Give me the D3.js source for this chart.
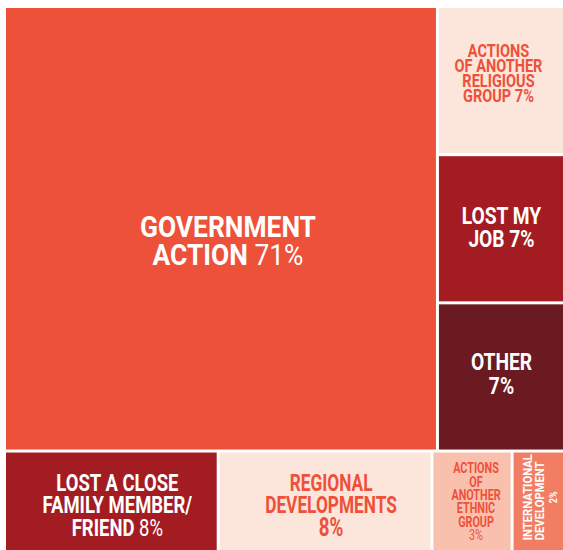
<!DOCTYPE html>
<html>
<head>
<meta charset="utf-8">
<script src="https://cdn.jsdelivr.net/npm/d3@7"></script>
<style>
  html, body { margin: 0; padding: 0; background: #ffffff; }
  svg { display: block; }
  text { font-family: Roboto, "Liberation Sans", sans-serif; }
</style>
</head>
<body>
<div id="chart"></div>
<script>
// Reasons given, share of respondents (%)
const categories = [
  "Government action",
  "Actions of another religious group",
  "Lost my job",
  "Other",
  "Lost a close family member/friend",
  "Regional developments",
  "Actions of another ethnic group",
  "International development"
];
const values = [71, 7, 7, 7, 8, 8, 3, 2];

// Label text, line by line (percentage added after the last line or on its own line)
const labelLines = [
  ["GOVERNMENT", "ACTION"],
  ["ACTIONS", "OF ANOTHER", "RELIGIOUS", "GROUP"],
  ["LOST MY", "JOB"],
  ["OTHER"],
  ["LOST A CLOSE", "FAMILY MEMBER/", "FRIEND"],
  ["REGIONAL", "DEVELOPMENTS"],
  ["ACTIONS", "OF", "ANOTHER", "ETHNIC", "GROUP"],
  ["INTERNATIONAL", "DEVELOPMENT"]
];
const pctOwnLine = [false, false, false, true, false, true, true, true];

// Grouping of the tiles: upper band (big tile + right-hand column), lower band
const upperLeft = [0];
const upperRight = [1, 2, 3];
const lowerBand = [4, 5, 6, 7];

// Styling per tile
const fills = ["#ee5139", "#fce5db", "#a31c22", "#6a1a20", "#a31c22", "#fce5db", "#f9c0ae", "#f17e63"];
const inks  = ["#ffffff", "#ee5139", "#ffffff", "#ffffff", "#ffffff", "#ee5139", "#ee5139", "#ffffff"];
const labelStyle = [
  { size: 29,   lh: 28,   dx: 7,  dy: 12,   sx: 0.91, pctWeight: 400 },
  { size: 17.5, lh: 15,   dx: -3, dy: -7,   sx: 0.83, pctWeight: 700 },
  { size: 24,   lh: 23,   dx: 0,  dy: -2,   sx: 0.80, pctWeight: 700 },
  { size: 24,   lh: 24,   dx: 0,  dy: -3,   sx: 0.80, pctWeight: 700 },
  { size: 24,   lh: 22.5, dx: 6,  dy: 3,    sx: 0.77, pctWeight: 400 },
  { size: 24,   lh: 22.5, dx: 6,  dy: 3,    sx: 0.72, pctWeight: 700, pctSize: 26 },
  { size: 15,   lh: 13.4, dx: 4,  dy: -0.5, sx: 0.72, pctWeight: 400 },
  { size: 12.5, lh: 12.5, dx: 1,  dy: -4.5, sx: 0.90, pctWeight: 700, pctSize: 10,
    rotate: true, align: "start" }
];

const width = 563, height = 550;
const margin = { left: 6, top: 8 };
const areaW = 558, areaH = 543;

const leaf = i => ({ index: i, value: values[i] });
const treeData = {
  children: [
    { children: [ ...upperLeft.map(leaf), { children: upperRight.map(leaf) } ] },
    { children: lowerBand.map(leaf) }
  ]
};

const root = d3.hierarchy(treeData).sum(d => d.value || 0);

// alternate horizontal and vertical splits by depth
const tile = (node, x0, y0, x1, y1) =>
  (node.depth % 2 === 0 ? d3.treemapSlice : d3.treemapDice)(node, x0, y0, x1, y1);

d3.treemap()
  .tile(tile)
  .size([areaW, areaH])
  .paddingInner(3)
  .round(false)(root);

const svg = d3.select("#chart").append("svg")
  .attr("width", width)
  .attr("height", height);

const g = svg.append("g").attr("transform", `translate(${margin.left},${margin.top})`);

const leaves = root.leaves();

g.selectAll("rect.tile")
  .data(leaves)
  .join("rect")
  .attr("class", "tile")
  .attr("x", d => d.x0)
  .attr("y", d => d.y0)
  .attr("width", d => d.x1 - d.x0)
  .attr("height", d => d.y1 - d.y0)
  .attr("fill", d => fills[d.data.index]);

const labels = g.selectAll("g.label")
  .data(leaves)
  .join("g")
  .attr("class", "label")
  .attr("transform", d => {
    const s = labelStyle[d.data.index];
    const cx = (d.x0 + d.x1) / 2 + s.dx;
    const cy = (d.y0 + d.y1) / 2 + s.dy;
    return `translate(${cx},${cy})` + (s.rotate ? " rotate(-90)" : "") + ` scale(${s.sx},1)`;
  });

labels.each(function (d) {
  const i = d.data.index;
  const s = labelStyle[i];
  const pct = values[i] + "%";
  const lines = labelLines[i].map(t => ({ text: t, pct: null }));
  if (pctOwnLine[i]) lines.push({ text: "", pct });
  else lines[lines.length - 1].pct = pct;

  const n = lines.length;
  const cap = 0.711 * s.size;
  const text = d3.select(this).append("text")
    .attr("text-anchor", "middle")
    .attr("fill", inks[i])
    .attr("font-size", s.size)
    .attr("font-weight", 700);

  const rows = [];
  lines.forEach((ln, k) => {
    const y = (k - (n - 1) / 2) * s.lh + cap / 2;
    const t = text.append("tspan").attr("x", 0).attr("y", y);
    if (ln.text) {
      t.text(ln.text + (ln.pct ? " " : ""));
      rows.push(t);
    }
    if (ln.pct) {
      text.append("tspan")
        .attr("font-weight", s.pctWeight)
        .attr("font-size", s.pctSize || s.size)
        .text(ln.pct)
        .attr("x", ln.text ? null : 0)
        .attr("y", ln.text ? null : y);
    }
  });

  // flush-left name lines (percentage stays centred)
  if (s.align === "start") {
    const widest = d3.max(rows, r => r.node().getComputedTextLength());
    rows.forEach(r => r.attr("text-anchor", "start").attr("x", -widest / 2));
  }
});
</script>
</body>
</html>
